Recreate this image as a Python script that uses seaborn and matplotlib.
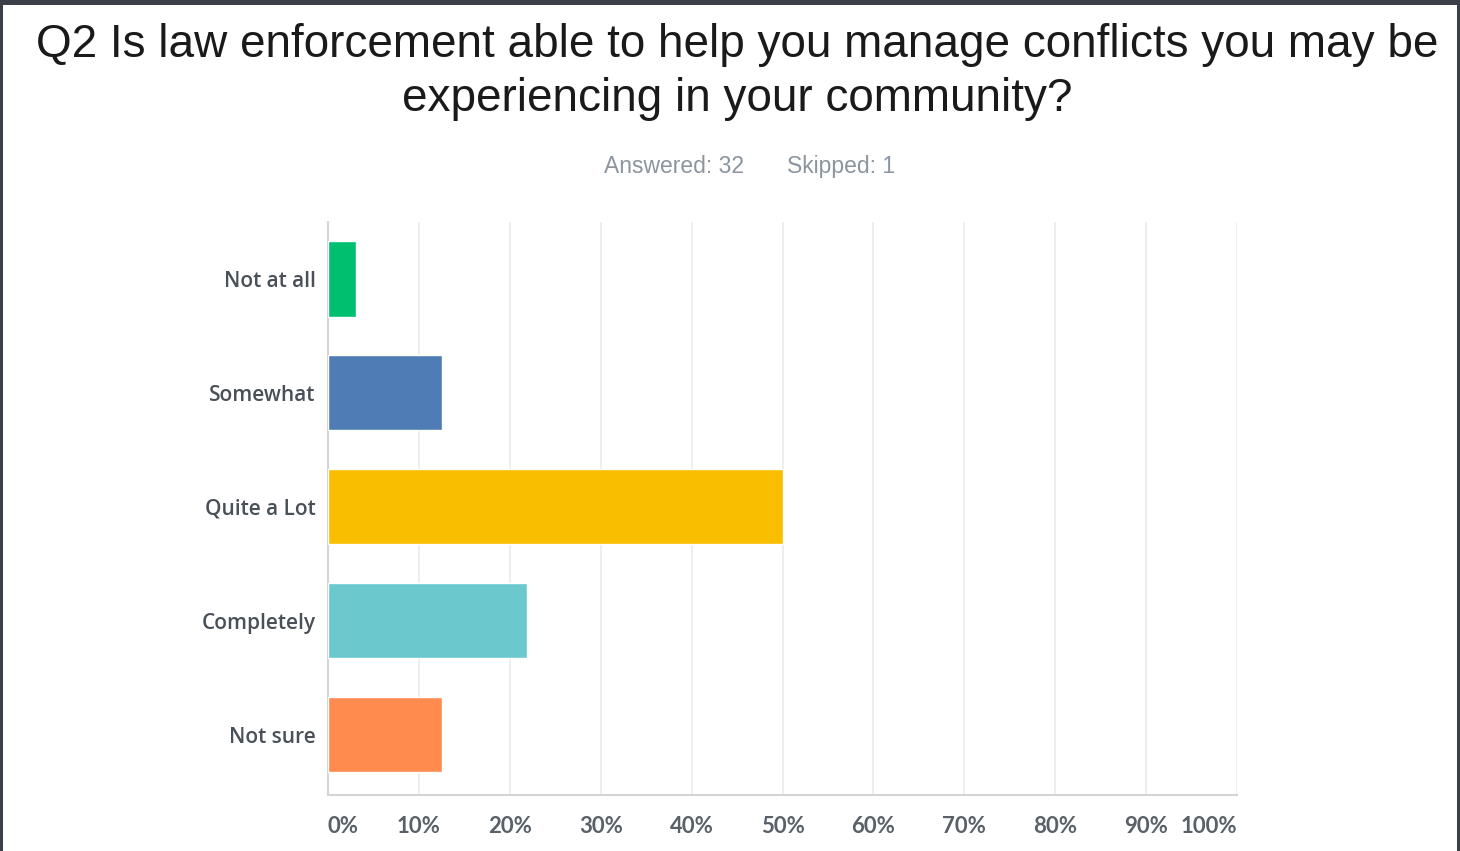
import matplotlib
matplotlib.use("Agg")
import matplotlib.pyplot as plt
import seaborn as sns
import pandas as pd
from matplotlib.patches import Rectangle

categories = ["Not at all", "Somewhat", "Quite a Lot", "Completely", "Not sure"]
percent = [3.13, 12.50, 50.00, 21.88, 12.50]
colors = ["#00bf6f", "#507cb6", "#f9be00", "#6bc8cd", "#ff8b4f"]
x_ticks = [0, 10, 20, 30, 40, 50, 60, 70, 80, 90, 100]
x_tick_labels = ["0%", "10%", "20%", "30%", "40%", "50%", "60%", "70%", "80%", "90%", "100%"]
title = "Q2 Is law enforcement able to help you manage conflicts you may be\nexperiencing in your community?"
answered = "Answered: 32"
skipped = "Skipped: 1"

sns.set_theme(style="white")
plt.rcParams['font.family'] = ['Liberation Sans', 'DejaVu Sans']

W, H = 1460, 851
fig = plt.figure(figsize=(W / 100, H / 100), dpi=100)
fig.patch.set_facecolor("#3b4048")
fig.patches.append(Rectangle((3 / W, 0), (1457 - 3) / W, (H - 5) / H,
                             transform=fig.transFigure, facecolor="white",
                             edgecolor="none", zorder=-10))

ax = fig.add_axes([328 / W, 56 / H, (1237 - 328) / W, (795 - 222) / H])
ax.set_facecolor("white")

df = pd.DataFrame({"cat": categories, "pct": percent})
sns.barplot(data=df, y="cat", x="pct", hue="cat", palette=colors, order=categories,
            hue_order=categories, orient="h", width=0.66, legend=False, ax=ax,
            saturation=1, zorder=3)

ax.set_xlim(0, 100)
ax.set_ylim(4.5 + 0.03, -0.5)
ax.set_xticks(x_ticks)
ax.set_xticklabels(x_tick_labels)
ax.set_xlabel("")
ax.set_ylabel("")

ax.grid(axis="x", color="#ebebeb", linewidth=1.2, zorder=0)
ax.grid(axis="y", visible=False)
for s in ["top", "right"]:
    ax.spines[s].set_visible(False)
ax.spines["left"].set_color("#d4d4d4")
ax.spines["bottom"].set_color("#d4d4d4")
ax.spines["left"].set_linewidth(1.5)
ax.spines["bottom"].set_linewidth(1.5)

ax.tick_params(axis="x", length=0, pad=15, labelsize=16, labelcolor="#596068")
ax.tick_params(axis="y", length=0, pad=9, labelsize=15, labelcolor="#4a5058")
for lbl in ax.get_xticklabels():
    lbl.set_fontfamily(["Lato", "DejaVu Sans"])
    lbl.set_fontweight("bold")
labels = ax.get_xticklabels()
labels[0].set_horizontalalignment("left")
labels[-1].set_horizontalalignment("right")
for lbl in ax.get_yticklabels():
    lbl.set_fontfamily(["Open Sans", "DejaVu Sans"])
    lbl.set_fontweight("semibold")

fig.text(737 / W, 1 - 72 / H, title, ha="center", va="center", fontsize=33,
         color="#1a1a1a", linespacing=1.3)
fig.text(674 / W, 1 - 173 / H, answered, ha="center", va="baseline", fontsize=16.5,
         color="#8c959d")
fig.text(841 / W, 1 - 173 / H, skipped, ha="center", va="baseline", fontsize=16.5,
         color="#8c959d")

fig.savefig("out.png", dpi=100, facecolor=fig.get_facecolor())
